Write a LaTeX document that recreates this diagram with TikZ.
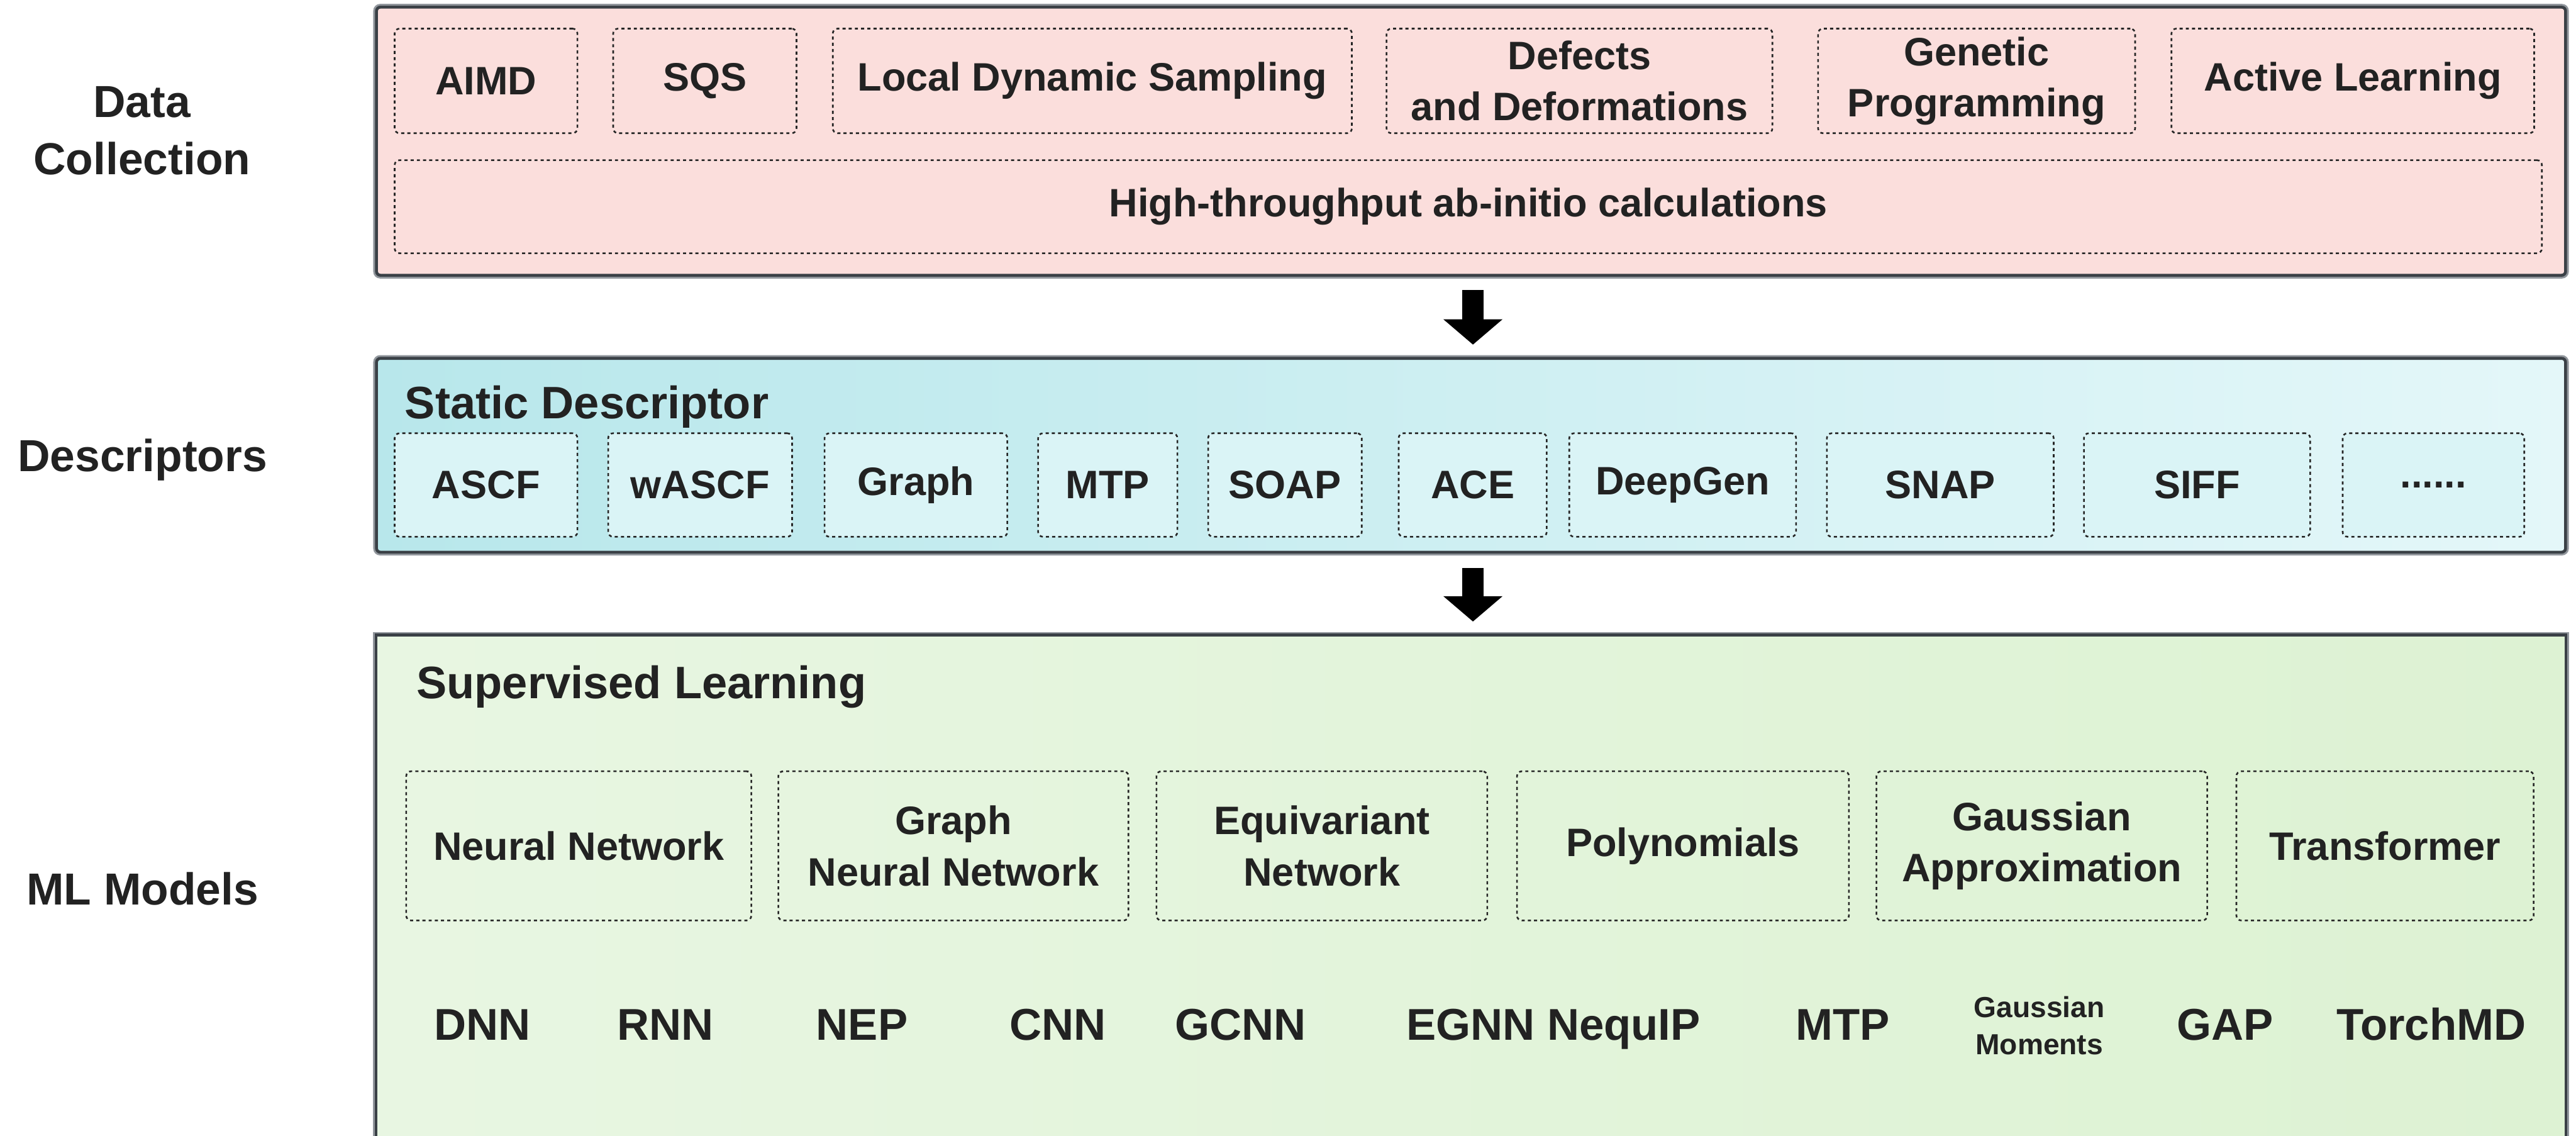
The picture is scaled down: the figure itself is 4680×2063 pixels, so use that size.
\documentclass[tikz,border=0pt]{standalone}
\usepackage{fontspec}
\setmainfont{Liberation Sans}
\usetikzlibrary{arrows.meta,fit}
\definecolor{pinkbg}{RGB}{251,222,220}
\definecolor{cyanL}{RGB}{184,231,235}
\definecolor{cyanR}{RGB}{228,247,249}
\definecolor{cyanbox}{RGB}{218,244,246}
\definecolor{greenL}{RGB}{232,246,226}
\definecolor{greenR}{RGB}{221,242,211}
\definecolor{edge}{RGB}{58,64,70}
\definecolor{edgeout}{RGB}{145,150,156}
\definecolor{txt}{RGB}{34,34,34}
\tikzset{
  panel/.style={draw=edge, line width=1.5pt, rounded corners=2pt, inner sep=0pt},
  bevel/.style={draw=edgeout, line width=1.1pt, rounded corners=3pt},
  ibox/.style={draw=black!85, line width=0.85pt, dash pattern=on 1.6pt off 1.6pt, rounded corners=2.5pt, inner sep=0pt},
  lbl/.style={font=\fontsize{20.5}{26.5}\selectfont\bfseries, text=txt, align=center, inner sep=0pt},
  head/.style={font=\fontsize{23.5}{29}\selectfont\bfseries, text=txt, inner sep=0pt, anchor=base west},
  side/.style={font=\fontsize{23.2}{29.6}\selectfont\bfseries, text=txt, align=center, inner sep=0pt},
  model/.style={font=\fontsize{23}{28}\selectfont\bfseries, text=txt, inner sep=0pt, anchor=base},
  small/.style={font=\fontsize{15}{19.3}\selectfont\bfseries, text=txt, align=center, inner sep=0pt},
  blockarrow/.style={line width=10.8pt, draw=black, -{Triangle[width=29.9pt,length=13.1pt]}},
}
\newcommand{\ibx}[7]{%
  \node[ibox,#6,fit={(#2,#3) (#4,#5)}] (#1) {};
  \node[lbl] (#1-t) at (#1.center) {#7};
}
\begin{document}
\begin{tikzpicture}[x=0.1mm,y=-0.1mm]
\useasboundingbox (0,0) rectangle (4680,2063);

% ---------- panels ----------
\draw[bevel] (680,9) rectangle (4665,504);
\node[panel, fill=pinkbg, fit={(684,13) (4661,500)}] (dc) {};

\draw[bevel] (680,647) rectangle (4665,1007);
\node[panel, left color=cyanL, right color=cyanR, fit={(684,651) (4661,1003)}] (ds) {};

\node[inner sep=0pt, left color=greenL, right color=greenR, fit={(684,1154) (4661,2100)}] (ml) {};
\draw[edgeout, line width=1.1pt] (680,2100) -- (680,1150) -- (4665,1150) -- (4665,2100);
\draw[edge, line width=1.5pt] (ml.south west) -- (ml.north west) -- (ml.north east) -- (ml.south east);

% ---------- side labels ----------
\node[side] (l1) at (258,237) {Data\\Collection};
\node[side, anchor=base] (l2) at (259,856) {Descriptors};
\node[side, anchor=base] (l3) at (259,1644) {ML Models};

% ---------- data collection ----------
\ibx{aimd}{717}{52}{1049}{242}{}{AIMD}
\ibx{sqs}{1114}{52}{1447}{242}{}{SQS}
\ibx{lds}{1513}{52}{2456}{242}{}{Local Dynamic Sampling}
\ibx{def}{2519}{52}{3220}{242}{}{Defects\\and Deformations}
\ibx{gen}{3303}{52}{3879}{242}{}{Genetic\\Programming}
\ibx{act}{3945}{52}{4604}{242}{}{Active Learning}
\ibx{hta}{717}{291}{4618}{460}{}{High-throughput ab-initio calculations}

% ---------- descriptors ----------
\node[head] (sd) at (735,760) {Static Descriptor};
\ibx{ascf}{717}{787}{1049}{975}{fill=cyanbox}{ASCF}
\ibx{wascf}{1105}{787}{1439}{975}{fill=cyanbox}{wASCF}
\ibx{graph}{1498}{787}{1830}{975}{fill=cyanbox}{Graph}
\ibx{mtpd}{1886}{787}{2139}{975}{fill=cyanbox}{MTP}
\ibx{soap}{2195}{787}{2474}{975}{fill=cyanbox}{SOAP}
\ibx{ace}{2541}{787}{2810}{975}{fill=cyanbox}{ACE}
\ibx{deepgen}{2851}{787}{3263}{975}{fill=cyanbox}{DeepGen}
\ibx{snap}{3319}{787}{3731}{975}{fill=cyanbox}{SNAP}
\ibx{siff}{3786}{787}{4197}{975}{fill=cyanbox}{SIFF}
\ibx{more}{4256}{787}{4586}{975}{fill=cyanbox}{......}

% ---------- ML models ----------
\node[head] (sl) at (756,1269) {Supervised Learning};
\ibx{nn}{738}{1401}{1365}{1672}{}{Neural Network}
\ibx{gnn}{1414}{1401}{2050}{1672}{}{Graph\\Neural Network}
\ibx{eqn}{2101}{1401}{2702}{1672}{}{Equivariant\\Network}
\ibx{poly}{2756}{1401}{3359}{1672}{}{Polynomials}
\ibx{gapx}{3409}{1401}{4010}{1672}{}{Gaussian\\Approximation}
\ibx{trans}{4063}{1401}{4603}{1672}{}{Transformer}

\node[model] (dnn) at (876,1889) {DNN};
\node[model] (rnn) at (1209,1889) {RNN};
\node[model] (nep) at (1566,1889) {NEP};
\node[model] (cnn) at (1922,1889) {CNN};
\node[model] (gcnn) at (2254,1889) {GCNN};
\node[model] (egnn) at (2672,1889) {EGNN};
\node[model] (nequip) at (2950,1889) {NequIP};
\node[model] (mtpm) at (3348,1889) {MTP};
\node[small] (gm) at (3705,1863) {Gaussian\\Moments};
\node[model] (gap) at (4043,1889) {GAP};
\node[model] (torchmd) at (4417,1889) {TorchMD};

% ---------- arrows ----------
\coordinate (a1s) at (2676,527);
\coordinate (a1e) at (2676,626);
\coordinate (a2s) at (2676,1032);
\coordinate (a2e) at (2676,1129);
\draw[blockarrow] (a1s) -- (a1e);
\draw[blockarrow] (a2s) -- (a2e);
\end{tikzpicture}
\end{document}
